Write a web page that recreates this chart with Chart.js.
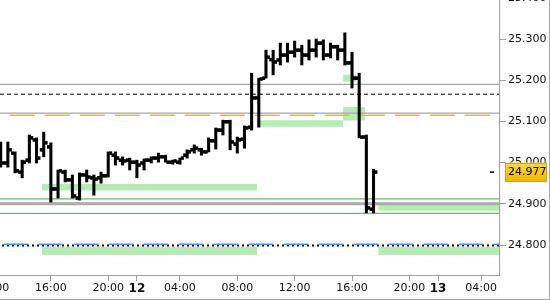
<!DOCTYPE html>
<html><head><meta charset="utf-8">
<script src="https://cdn.jsdelivr.net/npm/chart.js@4.4.1/dist/chart.umd.min.js"></script>
<style>
html,body{margin:0;padding:0;background:#fff;}
#wrap{position:absolute;left:0;top:0;width:549px;height:299px;border-right:1px solid #a9a9a9;border-bottom:1px solid #a9a9a9;overflow:hidden;background:#fff;}
#c{position:absolute;left:-28px;top:-23px;}
</style></head><body>
<div id="wrap"><canvas id="c" width="578" height="323"></canvas></div>
<script>
// 30-minute bars; bar index 0 = 12:30 on the 11th (session 01:00–22:00)
const opens  = [25.031,24.999,25.023,24.977,25.006,25.055,25.031,25.038,24.936,24.977,24.958,24.914,24.970,24.963,24.963,24.968,25.018,25.006,25.006,25.001,24.999,25.006,25.011,25.014,25.001,25.001,25.018,25.031,25.031,25.026,25.053,25.079,25.099,25.045,25.057,25.086,25.157,25.205,25.250,25.249,25.261,25.268,25.273,25.261,25.273,25.290,25.261,25.281,25.273,25.242,25.205,25.062,24.887];
const highs  = [25.050,25.050,25.026,25.006,25.067,25.060,25.074,25.048,24.982,24.982,24.970,24.975,24.982,24.970,24.977,25.026,25.026,25.014,25.011,25.006,25.009,25.014,25.023,25.018,25.006,25.011,25.031,25.043,25.035,25.060,25.084,25.103,25.103,25.062,25.089,25.217,25.205,25.273,25.273,25.290,25.290,25.295,25.285,25.298,25.300,25.298,25.290,25.285,25.315,25.268,25.217,25.067,24.984];
const lows   = [24.989,24.989,24.975,24.963,24.999,24.999,25.014,24.904,24.914,24.953,24.914,24.909,24.953,24.921,24.950,24.965,24.994,24.994,24.982,24.963,24.982,24.999,25.001,25.001,24.996,24.996,25.011,25.023,25.018,25.026,25.033,25.067,25.031,25.023,25.035,25.079,25.086,25.205,25.213,25.237,25.244,25.256,25.237,25.249,25.256,25.249,25.254,25.249,25.237,25.181,25.060,24.878,24.878];
const closes = [24.999,25.031,24.980,25.001,25.060,25.011,25.048,24.936,24.980,24.958,24.919,24.970,24.965,24.960,24.968,25.023,25.011,25.004,25.001,24.994,25.006,25.011,25.014,25.001,25.004,25.011,25.026,25.035,25.026,25.053,25.079,25.099,25.050,25.055,25.084,25.157,25.203,25.256,25.244,25.261,25.268,25.273,25.261,25.273,25.290,25.261,25.281,25.273,25.242,25.205,25.062,24.890,24.977];

// x-axis tick labels (at bar indices)
const tickIndex  = [-1, 7, 15, 19, 25, 33, 41, 49, 57, 61, 67];
const tickLabels = ['12:00','16:00','20:00','12','04:00','08:00','12:00','16:00','20:00','13','04:00'];

// horizontal levels (price values)
const levelValues = [25.190, 25.166, 25.120, 25.115, 24.912, 24.900, 24.877, 24.802, 24.799];

// shaded zones (bar-index range, price range)
const zoneStart  = [5.75, 35.75, 47.75, 47.75, 52.65, 5.75, 52.65];
const zoneEnd    = [35.75, 47.75, 49.6, 50.8, 69.5, 35.75, 69.5];
const zoneTop    = [24.948, 25.103, 25.213, 25.135, 24.897, 24.795, 24.795];
const zoneBottom = [24.932, 25.087, 25.196, 25.102, 24.883, 24.776, 24.776];

const X_MIN = -4, X_MAX = 69.5;
const FONT = 'DejaVu Sans';

const levelStyles = [
  {c:'#a8a8a8', w:1.3, d:[]},
  {c:'#000000', w:1,   d:[4,3]},
  {c:'#a8a8a8', w:1.3, d:[]},
  {c:'#f3b44c', w:1.3, d:[25,10], o:32.2},
  {c:'#62c062', w:1.2, d:[]},
  {c:'#aaaaaa', w:3,   d:[]},
  {c:'#62c062', w:1.2, d:[]},
  {c:'#4d8ff0', w:1.5, d:[24,11], o:3.2},
  {c:'#000000', w:2,   d:[2,3]}
];

const TICK = 0.0035;
const idx = opens.map((_, i) => i);
const datasets = [];
const ohlc = {type:'bar', backgroundColor:'#000', borderWidth:0, barPercentage:1, categoryPercentage:1, order:0};
datasets.push({...ohlc, data: idx.map(i => ({x:i, y:[opens[i]-TICK, opens[i]+TICK]}))});
datasets.push({...ohlc, data: idx.map(i => ({x:i, y:[lows[i], highs[i]]}))});
datasets.push({...ohlc, data: idx.map(i => ({x:i, y:[closes[i]-TICK, closes[i]+TICK]}))});

levelValues.forEach((v, k) => {
  const s = levelStyles[k];
  datasets.push({type:'line', data:[{x:X_MIN,y:v},{x:X_MAX,y:v}], borderColor:s.c, borderWidth:s.w,
    borderDash:s.d, borderDashOffset:s.o||0, pointRadius:0, fill:false, order:1});
});
zoneStart.forEach((s, k) => {
  datasets.push({type:'line', data:[{x:s,y:zoneBottom[k]},{x:zoneEnd[k],y:zoneBottom[k]}],
    borderColor:'rgba(0,0,0,0)', borderWidth:0, pointRadius:0,
    fill:{value: zoneTop[k]}, backgroundColor:'rgb(181,235,181)', order:2});
});

const priceTag = {
  id:'priceTag',
  afterDraw(chart){
    const {ctx, chartArea, scales:{y}} = chart;
    const last = closes[closes.length-1];
    const py = y.getPixelForValue(last);
    ctx.save();
    ctx.strokeStyle = '#000'; ctx.lineWidth = 1.5;
    ctx.beginPath(); ctx.moveTo(chartArea.right-9, py); ctx.lineTo(chartArea.right-5, py); ctx.stroke();
    const x0 = chartArea.right + 6, w = 42, h = 19;
    const g = ctx.createLinearGradient(0, py-h/2, 0, py+h/2);
    g.addColorStop(0, '#ffd84a'); g.addColorStop(1, '#f0b400');
    ctx.fillStyle = g; ctx.fillRect(x0, py-h/2, w, h);
    ctx.strokeStyle = '#c9a227'; ctx.lineWidth = 1;
    ctx.strokeRect(Math.round(x0)+0.5, Math.round(py-h/2)+0.5, w-1, h-1);
    ctx.fillStyle = '#000'; ctx.font = '11px "'+FONT+'"'; ctx.textBaseline = 'middle'; ctx.textAlign = 'left';
    ctx.fillText(last.toFixed(3), x0+3, py+0.5);
    ctx.restore();
  }
};

new Chart(document.getElementById('c'), {
  type:'bar',
  data:{datasets},
  options:{
    responsive:false, devicePixelRatio:1, animation:false, events:[],
    layout:{padding:0},
    plugins:{legend:{display:false}, tooltip:{enabled:false}},
    scales:{
      x:{type:'linear', min:X_MIN, max:X_MAX, offset:false,
        grid:{offset:false, drawOnChartArea:false, drawTicks:true, tickLength:6, color:'#a0a0a0'},
        border:{display:true, color:'#a0a0a0', width:1},
        afterBuildTicks:(s)=>{ s.ticks = tickIndex.map(v=>({value:v})); },
        afterFit:(s)=>{ s.height = 25; s.paddingLeft = 0; s.paddingRight = 0; },
        ticks:{autoSkip:false, maxRotation:0, minRotation:0, padding:1, color:'#111',
          callback:(v)=>{ const k = tickIndex.indexOf(v); return k < 0 ? '' : tickLabels[k]; },
          font:(c)=>{ const k = c.tick ? tickIndex.indexOf(c.tick.value) : -1;
            return (k >= 0 && !tickLabels[k].includes(':')) ? {family:FONT, size:12, weight:'bold'} : {family:FONT, size:11}; }
        }
      },
      y:{position:'right', min:24.7272, max:25.4505,
        grid:{drawOnChartArea:false, drawTicks:true, tickLength:7, color:'#a0a0a0'},
        border:{display:true, color:'#a0a0a0', width:1},
        afterFit:(s)=>{ s.width = 51; s.paddingTop = 0; s.paddingBottom = 0; },
        ticks:{stepSize:0.1, includeBounds:false, padding:2, color:'#111', font:{family:FONT, size:11},
          callback:(v)=>Number(v).toFixed(3)}
      }
    }
  },
  plugins:[priceTag]
});
</script>
</body></html>
